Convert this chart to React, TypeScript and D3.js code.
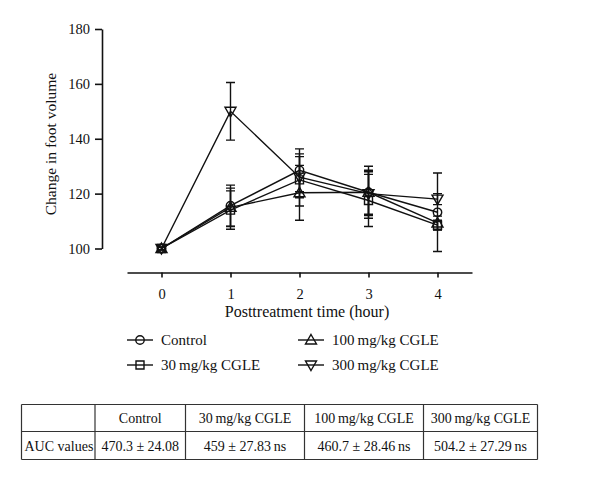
import React, { useEffect, useRef } from "react";
import * as d3 from "d3";

const times = [0, 1, 2, 3, 4];
const yTicks = [100, 120, 140, 160, 180];
const seriesNames = ["Control", "30 mg/kg CGLE", "100 mg/kg CGLE", "300 mg/kg CGLE"];
const seriesMarkers = ["circle", "square", "triangleUp", "triangleDown"];
const controlMean = [100, 115.6, 128.5, 120.5, 113.2];
const controlErr = [0.5, 7.5, 7.8, 9.5, 14.3];
const cgle30Mean = [100, 114, 125, 117.5, 108.5];
const cgle30Err = [0.5, 7, 9.5, 9.5, 1.8];
const cgle100Mean = [100, 115, 120.3, 120.5, 109.3];
const cgle100Err = [0.5, 7, 10, 8, 2.5];
const cgle300Mean = [100, 150, 126, 120, 118];
const cgle300Err = [0.5, 10.5, 7.5, 8, 2];
const tableHeaders = ["", "Control", "30\u2009mg/kg CGLE", "100\u2009mg/kg CGLE", "300\u2009mg/kg CGLE"];
const tableRow = ["AUC values", "470.3 ± 24.08", "459 ± 27.83\u2009ns", "460.7 ± 28.46\u2009ns", "504.2 ± 27.29\u2009ns"];

const means = [controlMean, cgle30Mean, cgle100Mean, cgle300Mean];
const errs = [controlErr, cgle30Err, cgle100Err, cgle300Err];

const FONT = "'Liberation Serif', 'DejaVu Serif', serif";

function markerPath(type: string, x: number, y: number): string {
  if (type === "circle") {
    const r = 4.2;
    return `M${x - r},${y}a${r},${r} 0 1,0 ${2 * r},0a${r},${r} 0 1,0 ${-2 * r},0Z`;
  }
  if (type === "square") {
    const s = 4;
    return `M${x - s},${y - s}h${2 * s}v${2 * s}h${-2 * s}Z`;
  }
  if (type === "triangleUp") {
    return `M${x},${y - 5.5}L${x + 5.5},${y + 4}L${x - 5.5},${y + 4}Z`;
  }
  return `M${x},${y + 5.5}L${x + 5.5},${y - 4}L${x - 5.5},${y - 4}Z`;
}

export default function App() {
  const ref = useRef<SVGSVGElement>(null);

  useEffect(() => {
    const svg = d3.select(ref.current);
    svg.selectAll("*").remove();

    const x = d3.scaleLinear().domain([-0.5, 4.5]).range([127, 472]);
    const y = d3.scaleLinear().domain([100, 180]).range([248.5, 29]);

    // Y axis
    const gy = svg
      .append("g")
      .attr("transform", "translate(102,0)")
      .call(d3.axisLeft(y).tickValues(yTicks).tickSize(7).tickSizeOuter(0).tickPadding(5));
    gy.selectAll("path,line").attr("stroke", "#111").attr("stroke-width", 1.6);
    gy.selectAll("text").attr("font-family", FONT).attr("font-size", 14.5).attr("fill", "#111");

    // X axis
    const gx = svg
      .append("g")
      .attr("transform", "translate(0,272.5)")
      .call(d3.axisBottom(x).tickValues(times).tickFormat(d3.format("d")).tickSize(5).tickSizeOuter(0).tickPadding(11));
    gx.selectAll("path,line").attr("stroke", "#111").attr("stroke-width", 1.6);
    gx.selectAll("text").attr("font-family", FONT).attr("font-size", 14.5).attr("fill", "#111");

    svg
      .append("text")
      .attr("transform", "translate(55.5,144) rotate(-90)")
      .attr("text-anchor", "middle")
      .attr("font-family", FONT)
      .attr("font-size", 15.5)
      .attr("fill", "#111")
      .text("Change in foot volume");

    svg
      .append("text")
      .attr("x", 307)
      .attr("y", 317)
      .attr("text-anchor", "middle")
      .attr("font-family", FONT)
      .attr("font-size", 16)
      .attr("fill", "#111")
      .text("Posttreatment time (hour)");

    const line = d3
      .line<number>()
      .x((_, i) => x(times[i]))
      .y((d) => y(d));

    const gData = svg.append("g");
    means.forEach((m) => {
      gData
        .append("path")
        .attr("d", line(m) || "")
        .attr("fill", "none")
        .attr("stroke", "#111")
        .attr("stroke-width", 1.4);
    });
    means.forEach((m, si) => {
      m.forEach((v, i) => {
        const cx = x(times[i]);
        const e = errs[si][i];
        const top = y(v + e);
        const bot = y(v - e);
        gData
          .append("path")
          .attr("d", `M${cx},${top}V${bot}M${cx - 4.5},${top}h9M${cx - 4.5},${bot}h9`)
          .attr("stroke", "#111")
          .attr("stroke-width", 1.4)
          .attr("fill", "none");
        gData
          .append("path")
          .attr("d", markerPath(seriesMarkers[si], cx, y(v)))
          .attr("stroke", "#111")
          .attr("stroke-width", 1.4)
          .attr("fill", "none");
      });
    });

    // Legend
    const legendPos = [
      [127, 340],
      [127, 365],
      [298, 340],
      [298, 365],
    ];
    seriesNames.forEach((name, si) => {
      const [lx, ly] = legendPos[si];
      const g = svg.append("g");
      g.append("path")
        .attr("d", `M${lx},${ly}h26`)
        .attr("stroke", "#111")
        .attr("stroke-width", 1.4);
      g.append("path")
        .attr("d", markerPath(seriesMarkers[si], lx + 13, ly))
        .attr("stroke", "#111")
        .attr("stroke-width", 1.4)
        .attr("fill", "none");
      g.append("text")
        .attr("x", lx + 34)
        .attr("y", ly + 5)
        .attr("font-family", FONT)
        .attr("font-size", 15)
        .attr("fill", "#111")
        .text(name.replace(" mg", "\u2009mg"));
    });

    // Table
    const colEdges = [21.5, 95, 185.5, 304.5, 423.5, 537.5];
    const rowEdges = [404.5, 431.5, 459.5];
    const gt = svg.append("g");
    rowEdges.forEach((ry) => {
      gt.append("line")
        .attr("x1", colEdges[0])
        .attr("x2", colEdges[colEdges.length - 1])
        .attr("y1", ry)
        .attr("y2", ry)
        .attr("stroke", "#333")
        .attr("stroke-width", 1.2);
    });
    colEdges.forEach((cx) => {
      gt.append("line")
        .attr("x1", cx)
        .attr("x2", cx)
        .attr("y1", rowEdges[0])
        .attr("y2", rowEdges[rowEdges.length - 1])
        .attr("stroke", "#333")
        .attr("stroke-width", 1.2);
    });
    const rows = [tableHeaders, tableRow];
    rows.forEach((row, ri) => {
      row.forEach((txt, ci) => {
        if (!txt) return;
        const isLabel = ri === 1 && ci === 0;
        const cx = isLabel ? colEdges[0] + 3 : (colEdges[ci] + colEdges[ci + 1]) / 2;
        gt.append("text")
          .attr("x", cx)
          .attr("y", (rowEdges[ri] + rowEdges[ri + 1]) / 2 + 5)
          .attr("text-anchor", isLabel ? "start" : "middle")
          .attr("font-family", FONT)
          .attr("font-size", 14)
          .attr("fill", "#111")
          .text(txt);
      });
    });
  }, []);

  return (
    <svg
      ref={ref}
      width={600}
      height={484}
      style={{ position: "absolute", left: 0, top: 0, background: "#fff" }}
    />
  );
}
